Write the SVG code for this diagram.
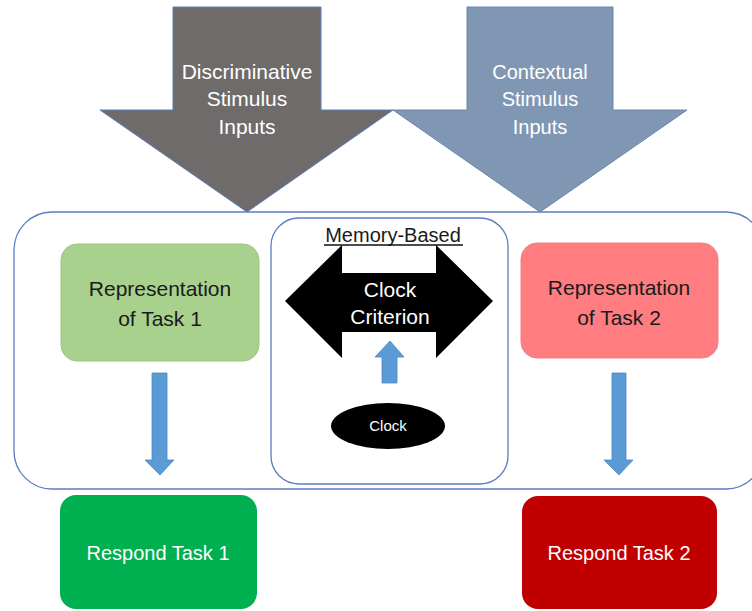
<svg xmlns="http://www.w3.org/2000/svg" width="752" height="611" viewBox="0 0 752 611">
<style>
text{font-family:"Liberation Sans",Arial,sans-serif;text-anchor:middle}
.w{fill:#ffffff}
.d{fill:#1a1a1a}
.frame{fill:#ffffff;stroke:#5b7fbf;stroke-width:1.3}
.flow{fill:#5b9bd5;stroke:#4f86c0;stroke-width:0.8}
</style>
<rect width="752" height="611" fill="#ffffff"/>
<g id="contextual-input">
<polygon points="467,7 613,7 613,110 687,110 540,212 393,110 467,110" fill="#8097b4" stroke="#6a86ad" stroke-width="1"/>
<text class="w" x="540" y="79" font-size="20">Contextual</text>
<text class="w" x="540" y="106" font-size="20">Stimulus</text>
<text class="w" x="540" y="134" font-size="20">Inputs</text>
</g>
<g id="discriminative-input">
<polygon points="173,7 321,7 321,110 393,110 247,212 100,110 173,110" fill="#6f6b6a" stroke="#5b7fbf" stroke-width="1"/>
<text class="w" x="247" y="79" font-size="21">Discriminative</text>
<text class="w" x="247" y="106" font-size="21">Stimulus</text>
<text class="w" x="247" y="134" font-size="21">Inputs</text>
</g>
<g id="container">
<rect class="frame" x="14" y="212" width="750" height="277" rx="38"/>
</g>
<g id="memory-based">
<rect class="frame" x="271" y="218" width="237" height="266" rx="28"/>
<text class="d" x="393" y="242" font-size="20" fill="#111">Memory-Based</text>
<line x1="324" y1="245" x2="463" y2="245" stroke="#111" stroke-width="1.3"/>
</g>
<g id="clock-criterion">
<polygon points="285,301 342,245 342,273 436,273 436,245 493,301 436,358 436,332 342,332 342,358" fill="#000000"/>
<text class="w" x="390" y="297" font-size="21">Clock</text>
<text class="w" x="390" y="324" font-size="21">Criterion</text>
</g>
<g id="clock">
<ellipse cx="388" cy="426" rx="57" ry="23" fill="#000000"/>
<text class="w" x="388" y="431" font-size="15">Clock</text>
</g>
<g id="rep-task-1">
<rect x="61" y="244" width="198" height="117" rx="16" fill="#a9d18e" stroke="#9cc583" stroke-width="1"/>
<text class="d" x="160" y="296" font-size="21">Representation</text>
<text class="d" x="160" y="326" font-size="21">of Task 1</text>
</g>
<g id="rep-task-2">
<rect x="521" y="243" width="197" height="115" rx="16" fill="#ff7c80" stroke="#f08080" stroke-width="1"/>
<text class="d" x="619" y="295" font-size="21">Representation</text>
<text class="d" x="619" y="325" font-size="21">of Task 2</text>
</g>
<g id="respond-task-1">
<rect x="60" y="495" width="197" height="114" rx="16" fill="#00b050"/>
<text class="w" x="158" y="560" font-size="20">Respond Task 1</text>
</g>
<g id="respond-task-2">
<rect x="522" y="496" width="195" height="113" rx="16" fill="#c00000"/>
<text class="w" x="619" y="560" font-size="20">Respond Task 2</text>
</g>
<g id="connectors">
<polygon class="flow" points="152,373 167,373 167,460 174,460 160,475 145,460 152,460"/>
<polygon class="flow" points="612,373 626,373 626,460 633,460 619,475 604,460 612,460"/>
<polygon class="flow" points="382,383 397,383 397,357 404,357 390,341 375,357 382,357"/>
</g>
</svg>
